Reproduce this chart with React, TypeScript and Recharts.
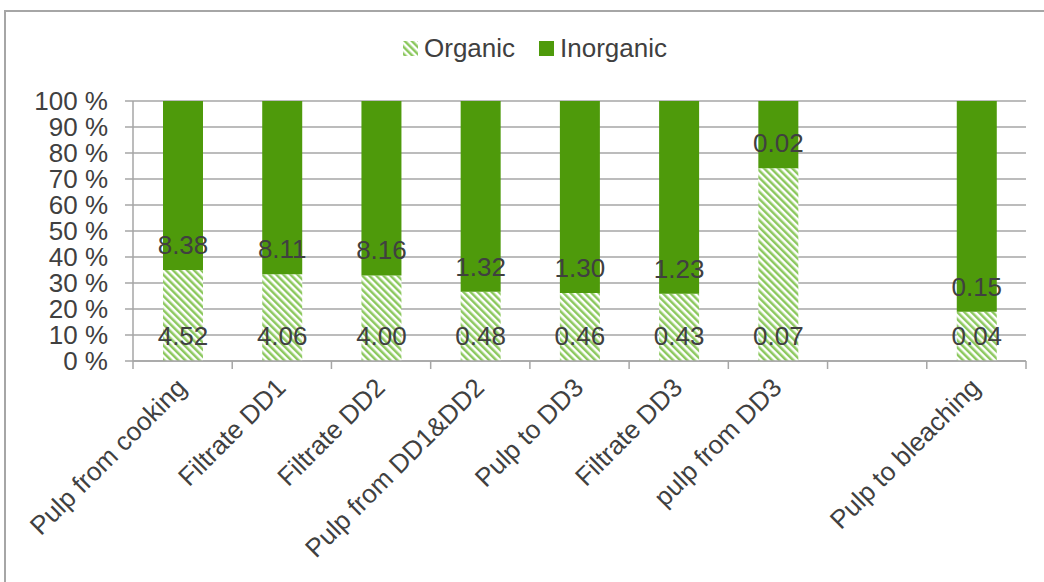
import React from "react";
import {
  BarChart,
  Bar,
  XAxis,
  YAxis,
  CartesianGrid,
  LabelList,
} from "recharts";

const categories = [
  "Pulp from cooking",
  "Filtrate DD1",
  "Filtrate DD2",
  "Pulp from DD1&DD2",
  "Pulp to DD3",
  "Filtrate DD3",
  "pulp from DD3",
  "",
  "Pulp to bleaching",
];
const organic = [4.52, 4.06, 4.0, 0.48, 0.46, 0.43, 0.066, 0, 0.036];
const inorganic = [8.38, 8.11, 8.16, 1.32, 1.3, 1.23, 0.023, 0, 0.154];
const yTicks = [0, 0.1, 0.2, 0.3, 0.4, 0.5, 0.6, 0.7, 0.8, 0.9, 1];

const data = categories.map((name, i) => ({
  name,
  organic: organic[i],
  inorganic: inorganic[i],
}));

const W = 1044;
const H = 582;
const PLOT_LEFT = 133;
const PLOT_RIGHT = 1026;
const BAND = (PLOT_RIGHT - PLOT_LEFT) / categories.length;

const FONT = "'Liberation Sans', Arial, sans-serif";
const FS = 26;
const TEXT = "#404040";
const GRID = "#a6a6a6";
const DARK = "#4e9a0b";
const HATCH = "#8cc85e";

function BaseLabel(props: any) {
  const { x, y, width, height, value } = props;
  if (!value) return null;
  return (
    <text
      x={x + width / 2}
      y={y + height - 25}
      textAnchor="middle"
      dominantBaseline="central"
      fill={TEXT}
      fontSize={FS}
      fontFamily={FONT}
    >
      {Number(value).toFixed(2)}
    </text>
  );
}

function XTick(props: any) {
  const { x, y, payload, index } = props;
  const left = x - BAND / 2;
  const right = x + BAND / 2;
  const tx = x - 1;
  const ty = y + 14;
  return (
    <g>
      <line x1={left} y1={y - 8} x2={left} y2={y} stroke={GRID} strokeWidth={1.5} />
      {index === categories.length - 1 && (
        <line x1={right} y1={y - 8} x2={right} y2={y} stroke={GRID} strokeWidth={1.5} />
      )}
      {payload.value && (
        <text
          x={tx}
          y={ty}
          textAnchor="end"
          dominantBaseline="central"
          transform={`rotate(-45 ${tx} ${ty})`}
          fill={TEXT}
          fontSize={FS}
          fontFamily={FONT}
        >
          {payload.value}
        </text>
      )}
    </g>
  );
}

function LegendBox() {
  const item = (label: string, fill: string, mr: number) => (
    <span style={{ display: "inline-flex", alignItems: "center", marginRight: mr }}>
      <svg width={15} height={15} style={{ marginRight: 6 }}>
        <rect width={15} height={15} fill={fill} />
      </svg>
      <span>{label}</span>
    </span>
  );
  return (
    <div
      style={{
        position: "absolute",
        left: 403,
        top: 33,
        display: "flex",
        alignItems: "center",
        fontFamily: FONT,
        fontSize: FS,
        lineHeight: "30px",
        color: TEXT,
        whiteSpace: "nowrap",
      }}
    >
      {item("Organic", "url(#hatch)", 24)}
      {item("Inorganic", DARK, 0)}
    </div>
  );
}

export default function App() {
  return (
    <div
      style={{
        position: "absolute",
        left: 0,
        top: 0,
        width: W,
        height: H,
        overflow: "hidden",
        background: "#fff",
      }}
    >
      <svg width={0} height={0} style={{ position: "absolute" }}>
        <defs>
          <pattern
            id="hatch"
            patternUnits="userSpaceOnUse"
            width={5}
            height={5}
            patternTransform="rotate(-45)"
          >
            <rect width={5} height={5} fill="#fff" />
            <rect width={2.5} height={5} fill={HATCH} />
          </pattern>
        </defs>
      </svg>
      <div
        style={{
          position: "absolute",
          left: 4,
          top: 10,
          width: 1100,
          height: 620,
          borderLeft: "2px solid #a6a6a6",
          borderTop: "2px solid #a6a6a6",
        }}
      />
      <LegendBox />
      <div style={{ position: "absolute", left: 0, top: 0 }}>
        <BarChart
          width={W}
          height={H}
          data={data}
          stackOffset="expand"
          barSize={40}
          margin={{ top: 101, right: W - PLOT_RIGHT, bottom: 21, left: PLOT_LEFT - 100 }}
        >
          <CartesianGrid vertical={false} stroke={GRID} strokeWidth={1.5} />
          <XAxis
            dataKey="name"
            interval={0}
            height={200}
            axisLine={{ stroke: GRID, strokeWidth: 1.5 }}
            tickLine={false}
            tick={<XTick />}
          />
          <YAxis
            width={100}
            domain={[0, 1]}
            ticks={yTicks}
            interval={0}
            tickSize={8}
            tickMargin={17}
            axisLine={{ stroke: GRID, strokeWidth: 1.5 }}
            tickLine={{ stroke: GRID, strokeWidth: 1.5 }}
            tickFormatter={(v: number) => `${Math.round(v * 100)} %`}
            tick={{ fill: TEXT, fontSize: FS, fontFamily: FONT }}
          />
          <Bar dataKey="organic" stackId="a" fill="url(#hatch)" isAnimationActive={false}>
            <LabelList dataKey="organic" content={<BaseLabel />} />
          </Bar>
          <Bar dataKey="inorganic" stackId="a" fill={DARK} isAnimationActive={false}>
            <LabelList dataKey="inorganic" content={<BaseLabel />} />
          </Bar>
        </BarChart>
      </div>
    </div>
  );
}
